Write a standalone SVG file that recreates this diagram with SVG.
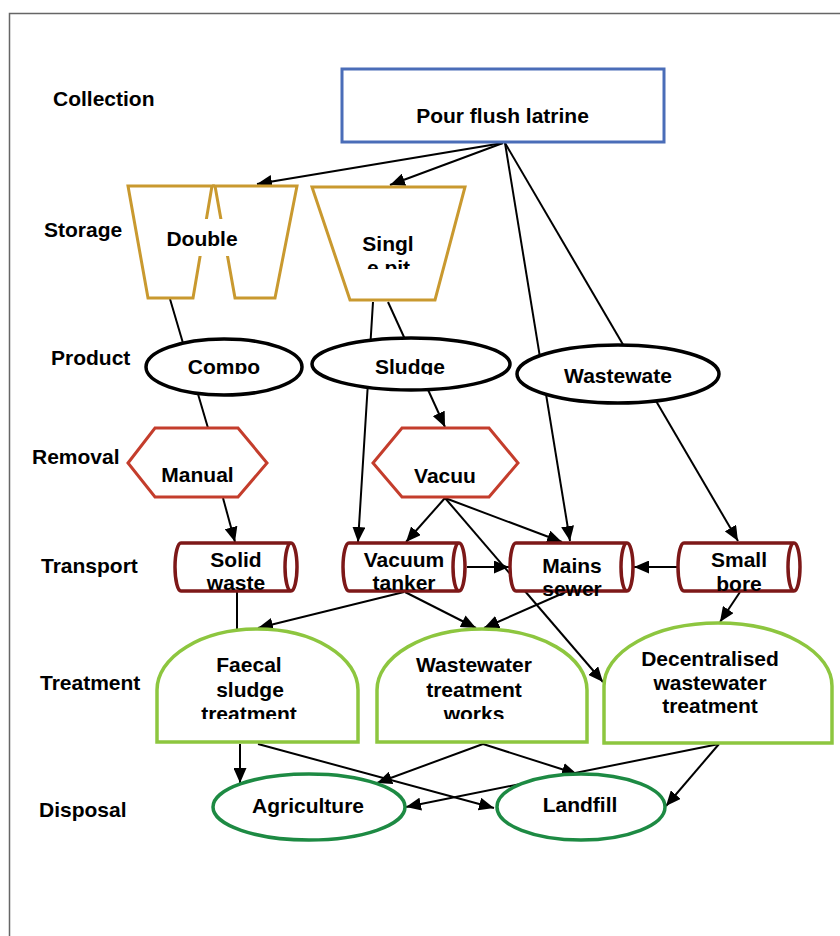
<svg xmlns="http://www.w3.org/2000/svg" width="840" height="936" viewBox="0 0 840 936">
<style>
.t{font-family:"Liberation Sans",Arial,sans-serif;font-weight:bold;font-size:21px;fill:#000;text-anchor:middle}
.lbl{text-anchor:start}
.c{stroke:#000;stroke-width:2;fill:none}
.a{marker-end:url(#ah)}
.blue{fill:#fff;stroke:#4A6DB8;stroke-width:3}
.gold{fill:#fff;stroke:#C9992F;stroke-width:3}
.prod{fill:#fff;stroke:#000;stroke-width:3.5}
.hex{fill:#fff;stroke:#C43D2C;stroke-width:3}
.cyl{fill:#fff;stroke:#7D1818;stroke-width:3.5}
.dome{fill:#fff;stroke:#8DC63F;stroke-width:3.5}
.disp{fill:#fff;stroke:#1D8A43;stroke-width:3.5}
</style>
<defs>
<marker id="ah" markerUnits="userSpaceOnUse" markerWidth="15" markerHeight="13" refX="15" refY="6.5" orient="auto">
<path d="M0,0 L15,6.5 L0,13 Z" fill="#000"/>
</marker>
<clipPath id="clipSingle"><rect x="315" y="200" width="150" height="69"/></clipPath>
<clipPath id="clipCompo"><rect x="150" y="340" width="150" height="34"/></clipPath>
<clipPath id="clipSludge"><rect x="315" y="340" width="190" height="35"/></clipPath>
<clipPath id="clipFaecal"><rect x="160" y="640" width="195" height="79"/></clipPath>
<clipPath id="clipWWT"><rect x="380" y="640" width="205" height="79"/></clipPath>
</defs>
<rect x="9.5" y="13.5" width="900" height="1000" fill="none" stroke="#666" stroke-width="1.5"/>

<g id="row-labels">
<text class="t lbl" x="53" y="106">Collection</text>
<text class="t lbl" x="44" y="237">Storage</text>
<text class="t lbl" x="51" y="365">Product</text>
<text class="t lbl" x="32" y="464">Removal</text>
<text class="t lbl" x="41" y="573">Transport</text>
<text class="t lbl" x="40" y="690">Treatment</text>
<text class="t lbl" x="39" y="817">Disposal</text>
</g>

<g id="connectors">
<line class="c a" x1="503" y1="143" x2="257" y2="184"/>
<line class="c a" x1="503" y1="143" x2="390" y2="185"/>
<line class="c a" x1="505" y1="143" x2="570" y2="541"/>
<line class="c a" x1="505" y1="143" x2="738" y2="541"/>
<line class="c" x1="170" y1="299" x2="208" y2="428"/>
<line class="c a" x1="373" y1="302" x2="358" y2="542"/>
<line class="c a" x1="388" y1="302" x2="445" y2="427"/>
<line class="c a" x1="223" y1="498" x2="235" y2="542"/>
<line class="c a" x1="445" y1="498" x2="406" y2="542"/>
<line class="c a" x1="445" y1="498" x2="562" y2="542"/>
<line class="c a" x1="445" y1="498" x2="603" y2="682"/>
<line class="c a" x1="467" y1="567" x2="509" y2="567"/>
<line class="c a" x1="678" y1="567" x2="634" y2="567"/>
<line class="c" x1="237" y1="591" x2="237" y2="629"/>
<line class="c a" x1="404" y1="592" x2="258" y2="628"/>
<line class="c a" x1="405" y1="592" x2="476" y2="628"/>
<line class="c a" x1="568" y1="591" x2="484" y2="628"/>
<line class="c a" x1="740" y1="592" x2="720" y2="622"/>
<line class="c a" x1="240" y1="744" x2="240" y2="783"/>
<line class="c a" x1="258" y1="744" x2="494" y2="808"/>
<line class="c a" x1="483" y1="744" x2="377" y2="783"/>
<line class="c a" x1="483" y1="744" x2="577" y2="774"/>
<line class="c a" x1="719" y1="744" x2="406" y2="807"/>
<line class="c a" x1="719" y1="744" x2="666" y2="806"/>
</g>

<g id="pour-flush-latrine">
<rect class="blue" x="342" y="69" width="322" height="73"/>
<text class="t" x="502.5" y="123">Pour flush latrine</text>
</g>

<g id="double-pit">
<polygon class="gold" points="128,186 212,186 193,298 148,298"/>
<polygon class="gold" points="215,186 297,186 275,298 235,298"/>
<line x1="212" y1="186" x2="215" y2="186" stroke="#C9992F" stroke-width="3"/>
<rect x="160" y="219" width="86" height="37" fill="#fff"/>
<text class="t" x="202" y="246">Double</text>
</g>

<g id="single-pit">
<polygon class="gold" points="312,187 465,187 435,300 350,300"/>
<g clip-path="url(#clipSingle)">
<text class="t" x="388" y="251">Singl</text>
<text class="t" x="388.5" y="275">e pit</text>
</g>
</g>

<g id="compost">
<ellipse class="prod" cx="224" cy="367" rx="78" ry="28"/>
<text class="t" x="224" y="374" clip-path="url(#clipCompo)">Compo</text>
</g>

<g id="sludge">
<ellipse class="prod" cx="411" cy="364" rx="99" ry="26"/>
<text class="t" x="410" y="374" clip-path="url(#clipSludge)">Sludge</text>
</g>

<g id="wastewater">
<ellipse class="prod" cx="618" cy="374" rx="101" ry="29"/>
<text class="t" x="618" y="383">Wastewate</text>
</g>

<g id="manual">
<polygon class="hex" points="128,463 155,428 238,428 267,463 238,497 155,497"/>
<text class="t" x="197.5" y="482">Manual</text>
</g>

<g id="vacuum">
<polygon class="hex" points="373,463 402,428 489,428 518,463 489,497 402,497"/>
<text class="t" x="445" y="483">Vacuu</text>
</g>

<g id="solid-waste">
<path class="cyl" d="M181,543 H291 A6,24 0 0 1 291,591 H181 A6,24 0 0 1 181,543 Z M291,543 A6,24 0 0 0 291,591"/>
<text class="t" x="236" y="567">Solid</text>
<text class="t" x="236" y="590">waste</text>
</g>

<g id="vacuum-tanker">
<path class="cyl" d="M349,543 H459 A6,24 0 0 1 459,591 H349 A6,24 0 0 1 349,543 Z M459,543 A6,24 0 0 0 459,591"/>
<text class="t" x="404" y="567">Vacuum</text>
<text class="t" x="404" y="590">tanker</text>
</g>

<g id="mains-sewer">
<path class="cyl" d="M516,543 H627 A6,24 0 0 1 627,591 H516 A6,24 0 0 1 516,543 Z M627,543 A6,24 0 0 0 627,591"/>
<text class="t" x="572" y="573">Mains</text>
<text class="t" x="572" y="596">sewer</text>
</g>

<g id="small-bore">
<path class="cyl" d="M684,543 H794 A6,24 0 0 1 794,591 H684 A6,24 0 0 1 684,543 Z M794,543 A6,24 0 0 0 794,591"/>
<text class="t" x="739" y="567">Small</text>
<text class="t" x="739" y="591">bore</text>
</g>

<g id="faecal-sludge-treatment">
<path class="dome" d="M157,742 V690 A100.5,61 0 0 1 358,690 V742 Z"/>
<g clip-path="url(#clipFaecal)">
<text class="t" x="249" y="672">Faecal</text>
<text class="t" x="250" y="697">sludge</text>
<text class="t" x="249" y="721">treatment</text>
</g>
</g>

<g id="wastewater-treatment-works">
<path class="dome" d="M377,742 V690 A105,61 0 0 1 587,690 V742 Z"/>
<g clip-path="url(#clipWWT)">
<text class="t" x="474" y="672">Wastewater</text>
<text class="t" x="474" y="697">treatment</text>
<text class="t" x="474" y="721">works</text>
</g>
</g>

<g id="decentralised-wastewater-treatment">
<path class="dome" d="M604,743 V686 A114,63 0 0 1 832,686 V743 Z"/>
<text class="t" x="710" y="666">Decentralised</text>
<text class="t" x="710" y="690">wastewater</text>
<text class="t" x="710" y="713">treatment</text>
</g>

<g id="agriculture">
<ellipse class="disp" cx="309" cy="807" rx="96" ry="33"/>
<text class="t" x="308" y="813">Agriculture</text>
</g>

<g id="landfill">
<ellipse class="disp" cx="581" cy="807" rx="84" ry="33"/>
<text class="t" x="580" y="812">Landfill</text>
</g>
</svg>
